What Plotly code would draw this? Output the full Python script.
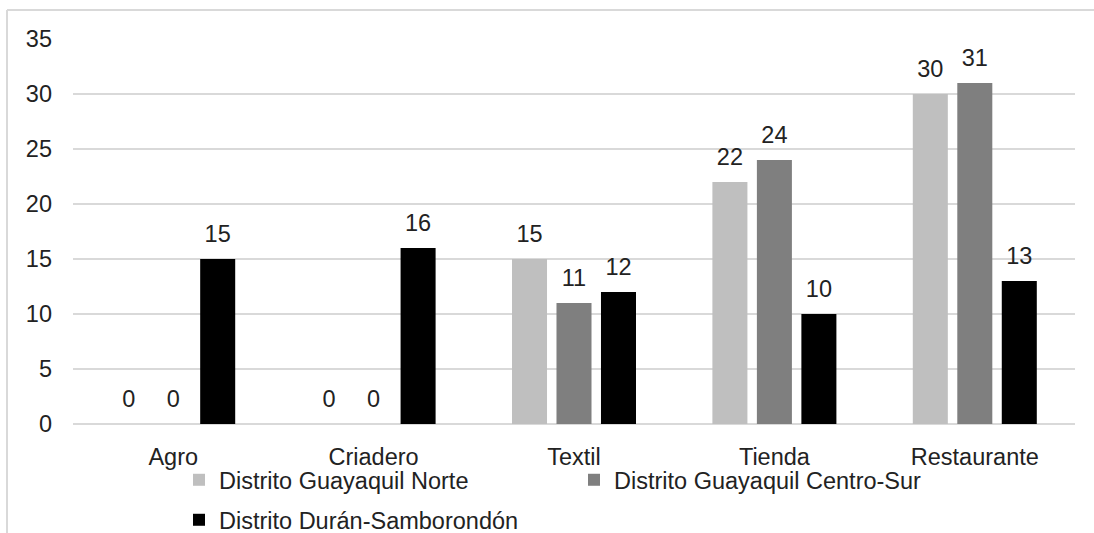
import plotly.graph_objects as go

categories = ["Agro", "Criadero", "Textil", "Tienda", "Restaurante"]
series_names = ["Distrito Guayaquil Norte", "Distrito Guayaquil Centro-Sur", "Distrito Durán-Samborondón"]
norte = [0, 0, 15, 22, 30]
centro_sur = [0, 0, 11, 24, 31]
duran = [15, 16, 12, 10, 13]
y_ticks = [0, 5, 10, 15, 20, 25, 30, 35]

colors = ["#BFBFBF", "#7F7F7F", "#000000"]
FONT = "Liberation Sans, Arial, sans-serif"
TXT = "#222222"
FS = 23.5

W, H = 1094, 533
L, R, T, B = 73, 19, 39, 109
PW, PH = W - L - R, H - T - B

def px_x(p):
    return (p - L) / PW

def px_y(p):
    return (H - B - p) / PH

fig = go.Figure()
values = [norte, centro_sur, duran]
legends = ["legend", "legend2", "legend3"]
for i, (name, vals) in enumerate(zip(series_names, values)):
    fig.add_trace(go.Bar(
        x=categories, y=vals, name=name,
        marker=dict(color=colors[i], line=dict(width=0)),
        offsetgroup=str(i), legend=legends[i],
        hoverinfo="x+y+name",
    ))
for i, (name, vals) in enumerate(zip(series_names, values)):
    fig.add_trace(go.Scatter(
        x=categories, y=vals, mode="markers+text",
        text=[str(v) for v in vals], textposition="top center",
        textfont=dict(family=FONT, size=FS, color=TXT),
        marker=dict(size=16, color="rgba(0,0,0,0)"),
        offsetgroup=str(i), showlegend=False, hoverinfo="skip",
        cliponaxis=False,
    ))

leg_common = dict(orientation="h", yanchor="middle", xanchor="left",
                  font=dict(family=FONT, size=FS, color=TXT),
                  bgcolor="rgba(0,0,0,0)", borderwidth=0)

fig.update_layout(
    width=W, height=H,
    margin=dict(l=L, r=R, t=T, b=B, autoexpand=False),
    paper_bgcolor="white", plot_bgcolor="white",
    barmode="group", bargap=0.334, bargroupgap=0.213,
    scattermode="group", scattergap=0.334,
    font=dict(family=FONT, size=FS, color=TXT),
    legend=dict(x=px_x(179), y=px_y(480), **leg_common),
    legend2=dict(x=px_x(574), y=px_y(480), **leg_common),
    legend3=dict(x=px_x(179), y=px_y(520), **leg_common),
    xaxis=dict(showgrid=False, showline=False, zeroline=False, ticks="",
               tickfont=dict(family=FONT, size=FS, color=TXT),
               ticklabelstandoff=16, fixedrange=True),
    yaxis=dict(range=[0, 35], tickvals=y_ticks, showgrid=True,
               gridcolor="#D9D9D9", gridwidth=1.5,
               zeroline=True, zerolinecolor="#D9D9D9", zerolinewidth=1.5,
               showline=False, ticks="",
               tickfont=dict(family=FONT, size=FS, color=TXT),
               ticklabelstandoff=20, fixedrange=True),
    shapes=[
        dict(type="line", xref="paper", yref="paper",
             x0=px_x(7), x1=px_x(W + 5), y0=px_y(10), y1=px_y(10),
             line=dict(color="#D9D9D9", width=2)),
        dict(type="line", xref="paper", yref="paper",
             x0=px_x(7), x1=px_x(7), y0=px_y(10), y1=px_y(H + 5),
             line=dict(color="#D9D9D9", width=2)),
    ],
    showlegend=True,
)

fig.write_html("out.html", config={"displayModeBar": False},
               post_script="document.body.style.margin='0px';document.body.style.overflow='hidden';")
